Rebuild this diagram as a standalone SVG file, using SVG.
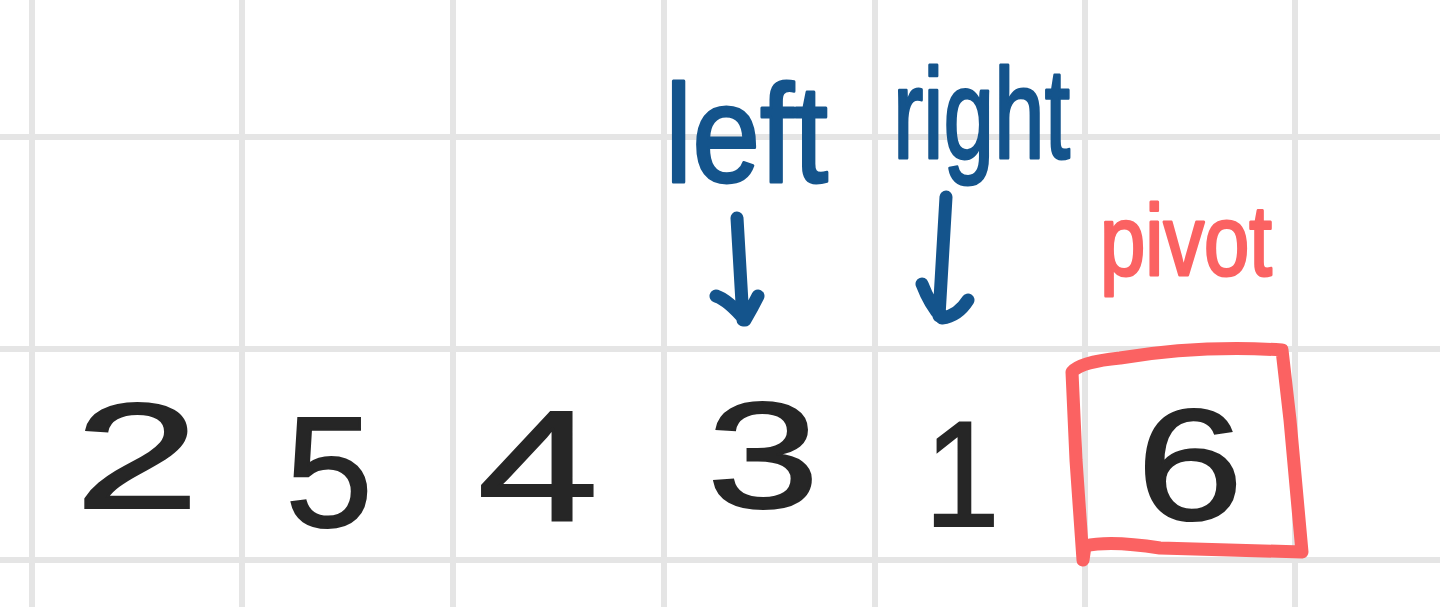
<svg xmlns="http://www.w3.org/2000/svg" width="1440" height="607" viewBox="0 0 1440 607">
<style>
.grid line{stroke:#e5e5e5;stroke-width:6}
.digit{font-family:"Liberation Sans",Arial,sans-serif;font-size:150px;fill:#262626;stroke:#262626;stroke-width:2;text-anchor:middle}
.lbl{font-family:"Liberation Sans",Arial,sans-serif;fill:#14548c;stroke:#14548c;stroke-width:3;stroke-linejoin:round}
.red{fill:#fb6262;stroke:#fb6262}
.arrow{fill:none;stroke:#14548c;stroke-width:13;stroke-linecap:round;stroke-linejoin:round}
</style>
<rect width="1440" height="607" fill="#ffffff"/>
<g class="grid" id="grid">
<line x1="32" y1="0" x2="32" y2="607"/>
<line x1="242" y1="0" x2="242" y2="607"/>
<line x1="453" y1="0" x2="453" y2="607"/>
<line x1="664" y1="0" x2="664" y2="607"/>
<line x1="875" y1="0" x2="875" y2="607"/>
<line x1="1085" y1="0" x2="1085" y2="607"/>
<line x1="1295" y1="0" x2="1295" y2="607"/>
<line x1="0" y1="137" x2="1440" y2="137"/>
<line x1="0" y1="349" x2="1440" y2="349"/>
<line x1="0" y1="560" x2="1440" y2="560"/>
</g>
<g id="cells">
<g id="n2"><text class="digit" transform="translate(137 508) scale(1.5 1)">2</text></g>
<g id="n5"><text class="digit" transform="translate(329 526) scale(1.05 1.05)">5</text></g>
<g id="n4"><text class="digit" transform="translate(538 521) scale(1.45 1.05)">4</text></g>
<g id="n3"><text class="digit" transform="translate(763 508) scale(1.35 1)">3</text></g>
<g id="n1"><text class="digit" transform="translate(962 526) scale(0.9 1)">1</text></g>
<g id="n6"><text class="digit" transform="translate(1190 519) scale(1.28 1.05)">6</text></g>
</g>
<g id="label-left"><text class="lbl" x="665" y="182" font-size="140" textLength="163" lengthAdjust="spacingAndGlyphs">left</text></g>
<g id="label-right"><text class="lbl" x="893" y="158" font-size="128" textLength="177" lengthAdjust="spacingAndGlyphs">right</text></g>
<g id="label-pivot"><text class="lbl red" x="1100" y="275" font-size="100" textLength="172" lengthAdjust="spacingAndGlyphs">pivot</text></g>
<g id="connectors">
<path class="arrow" d="M737 218 L743 320 M716 296 Q728 300 745 320 Q752 308 758 296"/>
<path class="arrow" d="M946 197 L939 316 M922 284 Q930 305 942 318 Q958 316 968 300"/>
</g>
<g id="pivot-box">
<path d="M1072 372 Q1080 362 1120 358 Q1200 345 1282 350 L1290 420 L1302 552 L1160 548 Q1110 540 1085 546 L1083 560 L1076 460 Z" fill="none" stroke="#fb6262" stroke-width="13" stroke-linejoin="round" stroke-linecap="round"/>
</g>
</svg>
